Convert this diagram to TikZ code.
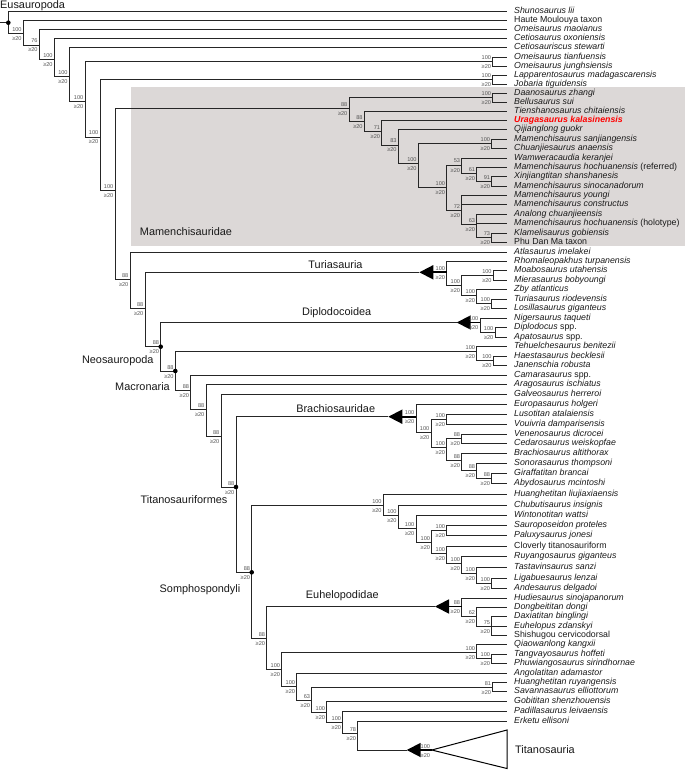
\documentclass[tikz,border=0pt]{standalone}
\usepackage{fontspec}
\setmainfont{Liberation Sans}
\usetikzlibrary{arrows.meta}
\definecolor{mamgray}{HTML}{DCD8D7}
\definecolor{uraga}{HTML}{FF0000}
\definecolor{supgray}{HTML}{555555}

\begin{document}
\begin{tikzpicture}[x=1pt, y=-1pt,
    branch/.style={draw=black!85, line width=0.9pt},
    taxon/.style={anchor=west, inner xsep=7pt, inner ysep=0pt, text height=6.3pt, text depth=1.8pt,
        font=\fontsize{8.8}{10}\selectfont\itshape, text=black!90},
    clade/.style={inner sep=0pt, font=\fontsize{10.9}{12}\selectfont, text=black!90},
    supbase/.style={anchor=base east, inner sep=0pt, xshift=-1.5pt, font=\fontsize{5.6}{6}\selectfont, text=supgray},
    supa/.style={supbase, yshift=2pt},
    supb/.style={supbase, yshift=-7pt},
    cladearrow/.style={draw=black, line width=1.8pt, -{Triangle[length=14pt, width=14pt]}},
    ndot/.style={circle, fill=black, inner sep=0pt, minimum size=4.6pt}]
    \fill[white] (0,0) rectangle (685,770);
    \useasboundingbox (0,0) rectangle (685,770);
    % Mamenchisauridae shading
    \fill[mamgray] (131,87.3) rectangle (685,245.7);

    % terminal taxa
    \foreach \n/\y/\t in {
        shun/11/{Shunosaurus lii}, haute/20/{\textup{Haute Moulouya taxon}},
        omma/29/{Omeisaurus maoianus}, ceto/38/{Cetiosaurus oxoniensis},
        cets/47/{Cetiosauriscus stewarti}, omti/57/{Omeisaurus tianfuensis},
        omju/66/{Omeisaurus junghsiensis}, lapp/75/{Lapparentosaurus madagascarensis},
        joba/84/{Jobaria tiguidensis}, daan/93/{Daanosaurus zhangi},
        bell/102/{Bellusaurus sui}, tien/111/{Tienshanosaurus chitaiensis},
        urag/120/{\color{uraga}\bfseries Uragasaurus kalasinensis}, qiji/129.5/{Qijianglong guokr},
        msan/139/{Mamenchisaurus sanjiangensis}, chua/148.5/{Chuanjiesaurus anaensis},
        wamw/158/{Wamweracaudia keranjei}, mhre/167/{Mamenchisaurus hochuanensis \textup{(referred)}},
        xinj/176.5/{Xinjiangtitan shanshanesis}, msin/186/{Mamenchisaurus sinocanadorum},
        myou/195/{Mamenchisaurus youngi}, mcon/204.5/{Mamenchisaurus constructus},
        anal/214/{Analong chuanjieensis}, mhho/223.5/{Mamenchisaurus hochuanensis \textup{(holotype)}},
        klam/233/{Klamelisaurus gobiensis}, phud/242.5/{\textup{Phu Dan Ma taxon}},
        atla/252/{Atlasaurus imelakei}, rhom/261/{Rhomaleopakhus turpanensis},
        moab/270.5/{Moabosaurus utahensis}, mier/280/{Mierasaurus bobyoungi},
        zby/289.5/{Zby atlanticus}, turi/299/{Turiasaurus riodevensis},
        losi/308.5/{Losillasaurus giganteus}, nige/318/{Nigersaurus taqueti},
        dipl/327.5/{Diplodocus \textup{spp.}}, apat/337/{Apatosaurus \textup{spp.}},
        tehu/346.5/{Tehuelchesaurus benitezii}, haes/356/{Haestasaurus becklesii},
        jane/365.5/{Janenschia robusta}, cama/375/{Camarasaurus \textup{spp.}},
        arag/384.5/{Aragosaurus ischiatus}, galv/394.5/{Galveosaurus herreroi},
        euro/404.5/{Europasaurus holgeri}, luso/414.5/{Lusotitan atalaiensis},
        vouv/424.5/{Vouivria damparisensis}, vene/434/{Venenosaurus dicrocei},
        ceda/443.5/{Cedarosaurus weiskopfae}, brac/453/{Brachiosaurus altithorax},
        sono/463/{Sonorasaurus thompsoni}, gira/473/{Giraffatitan brancai},
        abyd/483.5/{Abydosaurus mcintoshi}, hlli/494/{Huanghetitan liujiaxiaensis},
        chub/505/{Chubutisaurus insignis}, wint/515.5/{Wintonotitan wattsi},
        saur/525.5/{Sauroposeidon proteles}, palu/535.5/{Paluxysaurus jonesi},
        clov/546/{\textup{Cloverly titanosauriform}}, ruya/556.5/{Ruyangosaurus giganteus},
        tast/567/{Tastavinsaurus sanzi}, liga/578/{Ligabuesaurus lenzai},
        ande/588/{Andesaurus delgadoi}, hudi/598/{Hudiesaurus sinojapanorum},
        dong/607/{Dongbeititan dongi}, daxi/616.5/{Daxiatitan binglingi},
        euhe/626/{Euhelopus zdanskyi}, shis/635.5/{\textup{Shishugou cervicodorsal}},
        qiao/644.5/{Qiaowanlong kangxii}, tang/654/{Tangvayosaurus hoffeti},
        phuw/663.5/{Phuwiangosaurus sirindhornae}, ango/673/{Angolatitan adamastor},
        hrru/682/{Huanghetitan ruyangensis}, sava/691.5/{Savannasaurus elliottorum},
        gobi/701/{Gobititan shenzhouensis}, padi/711/{Padillasaurus leivaensis},
        erke/721/{Erketu ellisoni}}
        \node[taxon] (\n) at (507,\y) {\t};

    % internal nodes
    \foreach \n/\x/\y in {N0/0/22.7, N1/8.3/22.7, N2/23.3/33.7, N3/39.3/45, N4/54.3/59.3,
        N5/69.3/76.7, N6/85/101.7, Pomti/492.7/61.5, N7/100/137, Plapp/492.7/79.5, N8/115/190,
        M1/349/108.3, Pdaan/492.7/97.5, M2/364.3/121.7, M3/381.7/131.7, M4/398.3/145,
        M5/418.3/163.3, Pmsan/491.7/143.7, M6/446.7/187.3, M7/461.7/165, M8/476.7/173.7,
        M9/491.7/181.2, M10/461.7/210.3, M11/476.7/224.7, M12/491.7/237.7,
        N9/130/279.3, N10/145/308.3, Tur/446.7/272.3, turtip/419.3/272.3, T2/461.7/285,
        Pmoab/493.3/275.2, T3/476.7/295, Pturi/491.7/303.7,
        N11/160.7/346.7, Dip/480/322.5, diptip/456.7/322.5, Pdipl/495/332.2,
        N12/175.3/371, Teh/476.7/351, Phaes/493.3/360.7,
        N13/190.7/390.7, N14/206/409, N15/221/436.7, N16/236/487,
        Bra/416/416.7, bratip/388.3/416.7, B2/431/432, Pluso/446.7/419.5, B3/446.7/447,
        Pvene/461.7/438.7, B4/461.7/460, B5/476.7/470.5, Pgira/491.7/478.2,
        N17/251.7/572.3, S1/383.3/505, S2/398.3/515.3, S3/416/528.7, S4/431.7/542.7,
        Psaur/446.7/530.5, S5/446.7/553.3, S6/461.7/563.5, S7/476.7/573.7, Pliga/491.7/583,
        N18/266.7/638.3, Eu/461.7/606.5, eutip/435/606.5, Eu2/476.7/616, Eu3/491.7/626,
        N19/281.7/669.3, Q/476.7/652, Ptang/491.7/658.7, N20/296.7/686.7, N21/311.7/700,
        Phrru/492.7/687, N22/326.7/712.7, N23/342.7/722.7, N24/357.7/733.3,
        Tit/431.7/750, tittip/406.7/750, titA/507/730, titB/507/768.5}
        \coordinate (\n) at (\x,\y);

    % branches
    \foreach \p/\c in {N0/N1, N1/shun, N1/N2, N2/haute, N2/N3, N3/omma, N3/N4, N4/ceto, N4/N5,
        N5/cets, N5/N6, N6/Pomti, N6/N7, Pomti/omti, Pomti/omju, N7/Plapp, N7/N8,
        Plapp/lapp, Plapp/joba, N8/M1, N8/N9,
        M1/Pdaan, M1/M2, Pdaan/daan, Pdaan/bell, M2/tien, M2/M3, M3/urag, M3/M4,
        M4/qiji, M4/M5, M5/Pmsan, M5/M6, Pmsan/msan, Pmsan/chua, M6/M7, M6/M10,
        M7/wamw, M7/M8, M8/mhre, M8/M9, M9/xinj, M9/msin, M10/myou, M10/mcon, M10/M11,
        M11/anal, M11/mhho, M11/M12, M12/klam, M12/phud,
        N9/atla, N9/N10, N10/turtip, N10/N11, Tur/rhom, Tur/T2, T2/Pmoab, T2/T3,
        Pmoab/moab, Pmoab/mier, T3/zby, T3/Pturi, Pturi/turi, Pturi/losi,
        N11/diptip, N11/N12, Dip/nige, Dip/Pdipl, Pdipl/dipl, Pdipl/apat,
        N12/Teh, N12/N13, Teh/tehu, Teh/Phaes, Phaes/haes, Phaes/jane,
        N13/cama, N13/N14, N14/arag, N14/N15, N15/galv, N15/N16, N16/bratip, N16/N17,
        Bra/euro, Bra/B2, B2/Pluso, B2/B3, Pluso/luso, Pluso/vouv, B3/Pvene, B3/B4,
        Pvene/vene, Pvene/ceda, B4/brac, B4/B5, B5/sono, B5/Pgira, Pgira/gira, Pgira/abyd,
        N17/S1, N17/N18, S1/hlli, S1/S2, S2/chub, S2/S3, S3/wint, S3/S4, S4/Psaur, S4/S5,
        Psaur/saur, Psaur/palu, S5/clov, S5/S6, S6/ruya, S6/S7, S7/tast, S7/Pliga,
        Pliga/liga, Pliga/ande,
        N18/eutip, N18/N19, Eu/hudi, Eu/Eu2, Eu2/dong, Eu2/Eu3, Eu3/daxi, Eu3/euhe, Eu3/shis,
        N19/Q, N19/N20, Q/qiao, Q/Ptang, Ptang/tang, Ptang/phuw, N20/ango, N20/N21,
        N21/Phrru, N21/N22, Phrru/hrru, Phrru/sava, N22/gobi, N22/N23, N23/padi, N23/N24,
        N24/erke, N24/tittip}
        \draw[branch] (\p) |- (\c);

    % collapsed clades
    \foreach \n/\t in {Tur/turtip, Dip/diptip, Bra/bratip, Eu/eutip, Tit/tittip}
        \draw[cladearrow] (\n) -- (\t);
    \draw[line width=1pt, line join=miter] (Tit) -- (titA) -- (titB) -- cycle;

    % node dots
    \foreach \n in {N1, N11, N12, N16, N17}
        \node[ndot] (\n-dot) at (\n) {};

    % support values
    \foreach \n/\v in {N2/100, N3/76, N4/100, N5/100, N6/100, Pomti/100, N7/100, Plapp/100,
        N8/100, M1/88, Pdaan/100, M2/88, M3/71, M4/83, M5/100, Pmsan/100, M6/100, M7/53,
        M8/61, M9/91, M10/72, M11/63, M12/73, N9/88, N10/88, Tur/100, T2/100, Pmoab/100,
        T3/100, Pturi/100, N11/88, Dip/100, Pdipl/100, N12/88, Teh/100, Phaes/100,
        N13/88, N14/88, N15/88, N16/88, Bra/100, B2/100, Pluso/100, B3/100, Pvene/88,
        B4/88, B5/88, Pgira/88, N17/88, S1/100, S2/100, S3/100, S4/100, Psaur/100,
        S5/100, S6/100, S7/100, Pliga/100, N18/88, Eu/88, Eu2/62, Eu3/75, N19/100, Q/100,
        Ptang/100, N20/100, N21/63, Phrru/81, N22/100, N23/100, N24/78, Tit/100}
    {
        \node[supa] (\n-s) at (\n) {\v};
        \node[supb] (\n-t) at (\n) {≥20};
    }

    % clade names
    \node[clade, anchor=base west] (leusa) at (0,8.3) {Eusauropoda};
    \node[clade] (lmame) at (186,231.7) {Mamenchisauridae};
    \node[clade] (lturi) at (335.5,264.3) {Turiasauria};
    \node[clade] (ldipl) at (336.7,312.7) {Diplodocoidea};
    \node[clade] (lneos) at (117.8,360.7) {Neosauropoda};
    \node[clade] (lmacr) at (142.5,386.7) {Macronaria};
    \node[clade] (lbrac) at (335.7,408.3) {Brachiosauridae};
    \node[clade] (ltifo) at (184,500) {Titanosauriformes};
    \node[clade] (lsomp) at (200,590) {Somphospondyli};
    \node[clade] (leuhe) at (342.3,596) {Euhelopodidae};
    \node[clade, anchor=west] (ltita) at (515,750) {Titanosauria};
\end{tikzpicture}
\end{document}
